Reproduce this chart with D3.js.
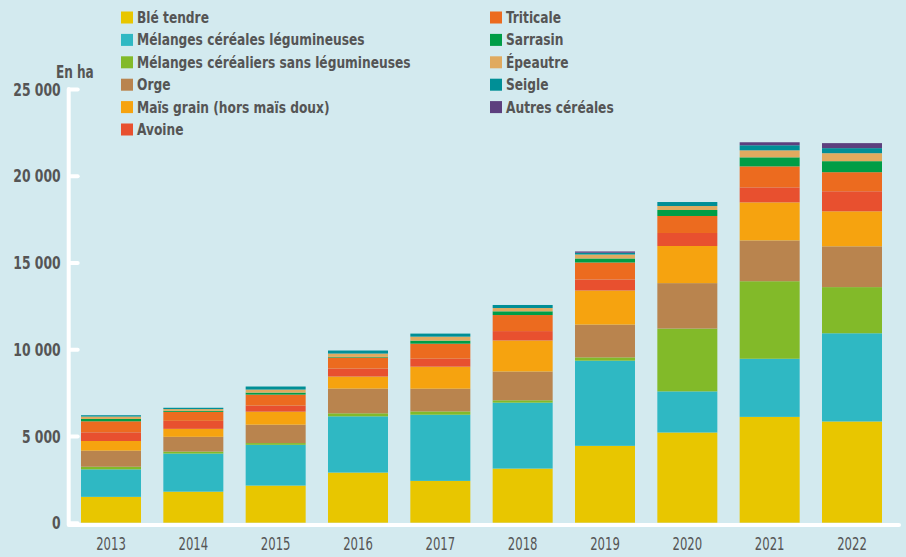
<!DOCTYPE html>
<html>
<head>
<meta charset="utf-8">
<script src="https://cdn.jsdelivr.net/npm/d3@7"></script>
<style>
  body { margin: 0; background: #d3eaef; }
  svg { display: block; }
  text { font-family: "Liberation Sans Narrow", "DejaVu Sans Condensed", sans-serif; fill: #555; }
</style>
</head>
<body>
<svg></svg>
<script>
let width = 906;
let height = 557;

// categories and series (hectares)
let years = ['2013', '2014', '2015', '2016', '2017', '2018', '2019', '2020', '2021', '2022'];
let seriesNames = ['Blé tendre', 'Mélanges céréales légumineuses', 'Mélanges céréaliers sans légumineuses',
    'Orge', 'Maïs grain (hors maïs doux)', 'Avoine', 'Triticale', 'Sarrasin', 'Épeautre', 'Seigle', 'Autres céréales'];
let seriesColors = ['#e8c600', '#2fb8c3', '#82ba29', '#b9844e', '#f6a30f', '#e8502f',
    '#ec6b1f', '#009d46', '#e0aa5f', '#008f96', '#5d3f7e'];

let bleTendre  = [1490, 1790, 2140, 2890, 2410, 3120, 4430, 5200, 6100, 5835];
let melLegum   = [1585, 2195, 2350, 3240, 3815, 3800, 4910, 2370, 3350, 5085];
let melSans    = [150, 115, 100, 175, 190, 135, 190, 3620, 4470, 2660];
let orge       = [925, 850, 1060, 1425, 1310, 1660, 1890, 2620, 2350, 2350];
let mais       = [560, 460, 750, 695, 1270, 1790, 1965, 2140, 2195, 2020];
let avoine     = [500, 460, 350, 460, 460, 540, 635, 750, 865, 1155];
let triticale  = [635, 520, 635, 635, 865, 925, 980, 980, 1210, 1100];
let sarrasin   = [135, 60, 115, 40, 175, 215, 230, 345, 520, 635];
let epeautre   = [140, 100, 175, 190, 230, 190, 230, 230, 405, 460];
let seigle     = [75, 75, 175, 175, 175, 175, 100, 230, 290, 290];
let autres     = [0, 0, 0, 0, 0, 0, 75, 0, 175, 290];

let yTicks = [0, 5000, 10000, 15000, 20000, 25000];

let allSeries = [bleTendre, melLegum, melSans, orge, mais, avoine, triticale, sarrasin, epeautre, seigle, autres];

// build a table for d3.stack
let table = years.map((y, i) => {
    let row = { year: y };
    seriesNames.forEach((name, j) => { row[name] = allSeries[j][i]; });
    return row;
});

let stacked = d3.stack().keys(seriesNames)(table);

let svg = d3.select('svg')
    .attr('width', width)
    .attr('height', height);

let x = d3.scaleBand()
    .domain(years)
    .range([81, 882])
    .paddingInner(0.2713)
    .paddingOuter(0);

let y = d3.scaleLinear()
    .domain([0, 25000])
    .range([522.7, 89]);

let color = d3.scaleOrdinal()
    .domain(seriesNames)
    .range(seriesColors);

// bars
svg.append('g')
    .selectAll('g.layer')
    .data(stacked)
    .enter()
    .append('g')
    .classed('layer', true)
    .style('fill', d => color(d.key))
    .selectAll('rect')
    .data(d => d)
    .enter()
    .append('rect')
    .attr('x', d => x(d.data.year))
    .attr('width', x.bandwidth())
    .attr('y', d => y(d[1]))
    .attr('height', d => y(d[0]) - y(d[1]));

// axis frame (white L shape)
svg.append('path')
    .attr('d', `M${68.7},${y(25000)}V525H899`)
    .style('fill', 'none')
    .style('stroke', '#fff')
    .style('stroke-width', 4)
    .style('stroke-linecap', 'round')
    .style('stroke-linejoin', 'round');

let fr = d3.formatLocale({ decimal: ',', thousands: '\u00a0', grouping: [3], currency: ['', ' €'] });

// y axis
let yAxis = svg.append('g')
    .attr('transform', 'translate(68.7,0)')
    .call(d3.axisLeft(y)
        .tickValues(yTicks)
        .tickSizeInner(-9)
        .tickSizeOuter(0)
        .tickPadding(8)
        .tickFormat(fr.format(',')));
yAxis.select('.domain').remove();
yAxis.selectAll('.tick line')
    .attr('x1', 1)
    .style('stroke', '#fff')
    .style('stroke-width', 4)
    .style('stroke-linecap', 'round');
// condensed look: squeeze labels horizontally
yAxis.selectAll('.tick text')
    .attr('x', 0)
    .attr('transform', 'translate(-8,0) scale(0.81,1)')
    .style('font-size', '17px')
    .style('font-weight', 'bold')
    .style('fill', '#555')
    .attr('dy', '0.36em');

// unit label
svg.append('text')
    .attr('transform', 'translate(56,78) scale(0.79,1)')
    .style('font-size', '17px')
    .style('font-weight', 'bold')
    .text('En ha');

// x axis labels
let xAxis = svg.append('g')
    .attr('transform', 'translate(0,527)')
    .call(d3.axisBottom(x).tickSize(0).tickPadding(10));
xAxis.select('.domain').remove();
xAxis.selectAll('.tick text')
    .attr('transform', 'scale(0.72,1)')
    .style('font-size', '18px')
    .style('fill', '#555');

// legend in two columns
let legend = svg.append('g')
    .selectAll('g.legend-item')
    .data(seriesNames)
    .enter()
    .append('g')
    .classed('legend-item', true)
    .attr('transform', (d, i) => {
        let col = i < 6 ? 0 : 1;
        let row = i < 6 ? i : i - 6;
        return `translate(${col === 0 ? 121 : 490}, ${11.5 + row * 22.4})`;
    });

legend.append('rect')
    .attr('width', 12)
    .attr('height', 12)
    .style('fill', d => color(d));

legend.append('text')
    .attr('transform', 'translate(16,11.5) scale(0.85,1)')
    .style('font-size', '16px')
    .style('font-weight', 'bold')
    .text(d => d);
</script>
</body>
</html>
